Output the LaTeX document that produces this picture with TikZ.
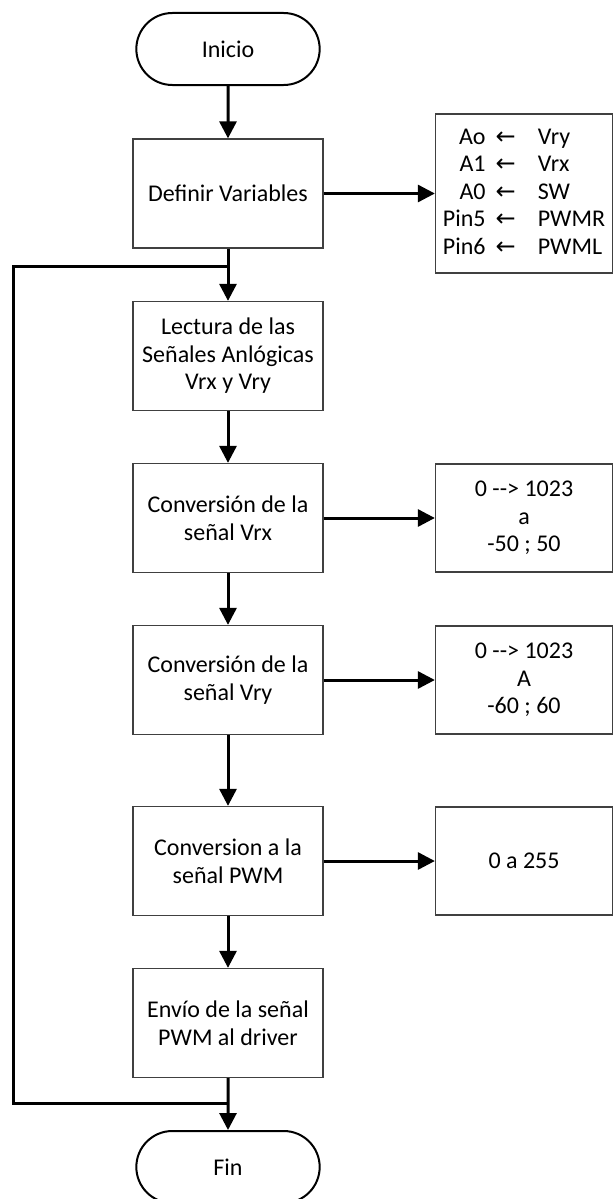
\documentclass[tikz,border=0pt]{standalone}
\usepackage{fontspec}
\setmainfont{Carlito}
\newfontfamily\arrfont{DejaVu Sans}
\usetikzlibrary{arrows.meta,shapes.misc}
\begin{document}
\begin{tikzpicture}[x=1pt,y=-1pt,
  every node/.style={font=\fontsize{24}{27.5}\selectfont},
  procbox/.style={draw=black!75,line width=1.3pt,rectangle,minimum width=190pt,minimum height=109pt,align=center,inner sep=2pt},
  notebox/.style={draw=black!75,line width=1.3pt,rectangle,minimum width=177pt,minimum height=108pt,align=center,inner sep=2pt},
  termbox/.style={draw=black,line width=2pt,rounded rectangle,minimum width=190pt,minimum height=72pt},
  flow/.style={line width=3pt,-{Triangle[width=17pt,length=17pt]}},
  plain/.style={line width=3pt}]
\useasboundingbox (0,0) rectangle (613,1199);
\node[termbox] (ini) at (228,49) {Inicio};
\node[procbox] (def) at (228,193.5) {Definir Variables};
\node[procbox] (lec) at (228,356) {Lectura de las\\Señales Anlógicas\\Vrx y Vry};
\node[procbox] (cvx) at (228,518) {Conversión de la\\señal Vrx};
\node[procbox] (cvy) at (228,680) {Conversión de la\\señal Vry};
\node[procbox] (pwm) at (228,861) {Conversion a la\\señal PWM};
\node[procbox] (env) at (228,1023) {Envío de la señal\\PWM al driver};
\node[termbox] (fin) at (228,1167) {Fin};
\node[notebox,minimum height=159pt] (var) at (524,193.5) {%
  \begin{tabular}{@{}r@{\hspace{10pt}}c@{\hspace{22pt}}l@{}}
  Ao & {\arrfont ←} & Vry\\[0pt]
  A1 & {\arrfont ←} & Vrx\\[0pt]
  A0 & {\arrfont ←} & SW\\[0pt]
  Pin5 & {\arrfont ←} & PWMR\\[0pt]
  Pin6 & {\arrfont ←} & PWML
  \end{tabular}};
\node[notebox] (rx) at (524,518) {0 {-}{-}> 1023\\a\\-50 ; 50};
\node[notebox] (ry) at (524,680) {0 {-}{-}> 1023\\A\\-60 ; 60};
\node[notebox] (rp) at (524,861) {0 a 255};
\coordinate (j1) at (228,266);
\coordinate (j2) at (228,1103);
\coordinate (l1) at (13,266);
\coordinate (l2) at (13,1103);
\draw[flow] (ini) -- (def);
\draw[flow] (def) -- (lec);
\draw[flow] (lec) -- (cvx);
\draw[flow] (cvx) -- (cvy);
\draw[flow] (cvy) -- (pwm);
\draw[flow] (pwm) -- (env);
\draw[flow] (env) -- (fin);
\draw[plain] (j2) -- (l2) -- (l1) -- (j1);
\draw[flow] (def.east) -- (var.west |- def.east);
\draw[flow] (cvx) -- (rx);
\draw[flow] (cvy) -- (ry);
\draw[flow] (pwm) -- (rp);
\end{tikzpicture}
\end{document}
